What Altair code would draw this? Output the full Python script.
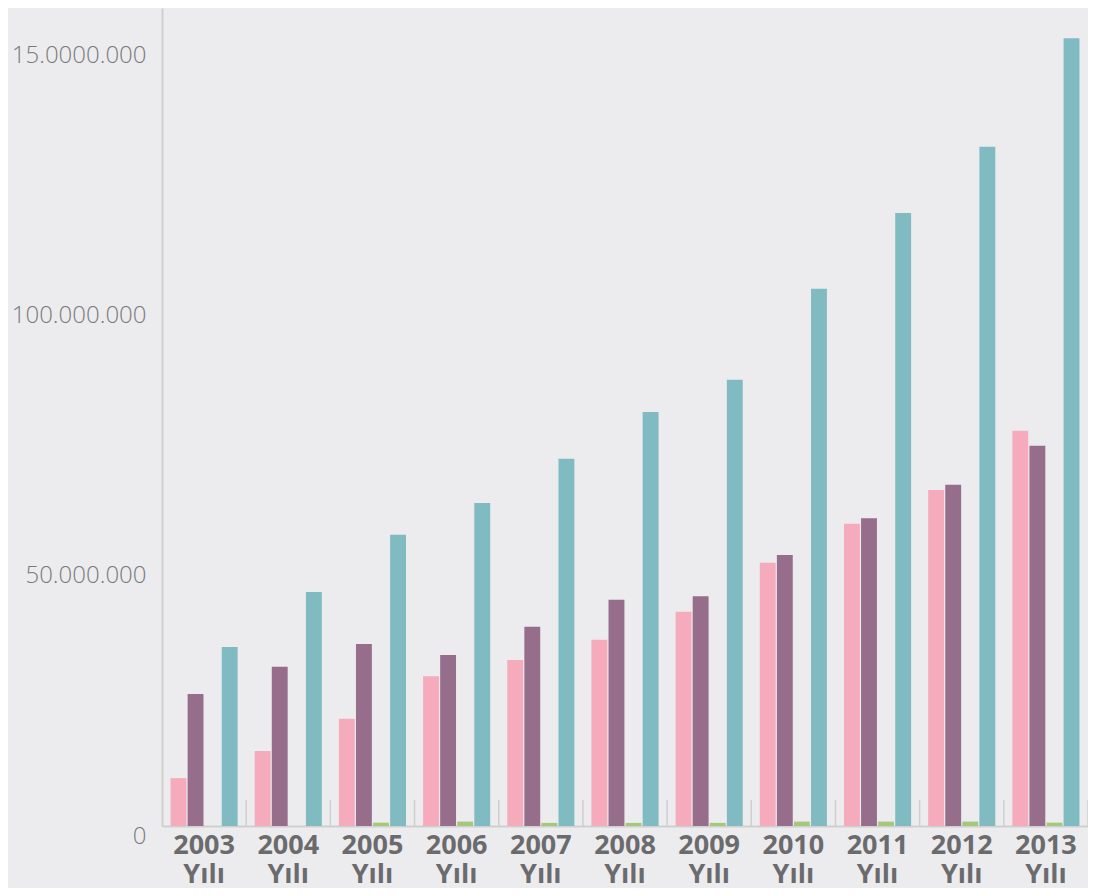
import altair as alt
import pandas as pd

years = ['2003', '2004', '2005', '2006', '2007', '2008', '2009', '2010', '2011', '2012', '2013']
series_names = ['Seri 1', 'Seri 2', 'Seri 3', 'Seri 4']
series_colors = ['#F5ABBC', '#966D8B', '#A5C97A', '#7FBBC1']

# values in millions
seri1 = [9.2, 14.4, 20.6, 28.8, 31.9, 35.8, 41.2, 50.6, 58.1, 64.6, 76.0]
seri2 = [25.4, 30.6, 35.0, 32.9, 38.3, 43.5, 44.2, 52.1, 59.2, 65.6, 73.1]
seri3 = [0.0, 0.0, 0.65, 0.85, 0.6, 0.6, 0.6, 0.85, 0.85, 0.85, 0.65]
seri4 = [34.4, 45.0, 56.0, 62.1, 70.6, 79.6, 85.8, 103.3, 117.9, 130.6, 151.5]

y_tick_values = [0, 50000000, 100000000, 150000000]
y_tick_labels = ['0', '50.000.000', '100.000.000', '15.0000.000']
x_label_suffix = 'Yılı'

rows = []
for name, vals in zip(series_names, [seri1, seri2, seri3, seri4]):
    for yr, v in zip(years, vals):
        rows.append({'year': yr, 'series': name, 'value': v * 1e6})
df = pd.DataFrame(rows)
df_years = pd.DataFrame({'year': years})

label_expr = "''"
for v, l in zip(reversed(y_tick_values), reversed(y_tick_labels)):
    label_expr = f"datum.value == {v} ? '{l}' : ({label_expr})"

W, H = 926, 818

x_enc = alt.X('year:N', sort=years,
              scale=alt.Scale(paddingInner=0, paddingOuter=0),
              axis=alt.Axis(title=None, labelAngle=0, ticks=False, bandPosition=0.5,
                            labelAlign='center', labelBaseline='top',
                            labelExpr=f"[datum.label, '{x_label_suffix}']",
                            domainColor='#cfcfcf', domainWidth=2,
                            labelFont='Open Sans', labelFontSize=27,
                            labelFontWeight='bold', labelColor='#6b6b6d',
                            labelLineHeight=29, labelPadding=6))

bars = alt.Chart(df).mark_bar().encode(
    x=x_enc,
    xOffset=alt.XOffset('series:N', sort=series_names,
                        scale=alt.Scale(paddingInner=0.07, paddingOuter=0.5)),
    y=alt.Y('value:Q',
            scale=alt.Scale(domain=[0, 157.3e6], nice=False, zero=True),
            axis=alt.Axis(title=None, values=y_tick_values, labelExpr=label_expr,
                          ticks=False, grid=False,
                          domainColor='#cfcfcf', domainWidth=2,
                          labelFont='Open Sans', labelFontSize=24,
                          labelFontWeight=300, labelColor='#7a7a7c',
                          labelPadding=16, labelOffset=10)),
    color=alt.Color('series:N', sort=series_names,
                    scale=alt.Scale(domain=series_names, range=series_colors),
                    legend=None),
)

seps = alt.Chart(df_years).mark_rule(color='#cfcfcf', strokeWidth=1.5).encode(
    x=alt.X('year:N', sort=years, bandPosition=1),
    y=alt.value(H - 26),
    y2=alt.value(H),
)

chart = alt.layer(seps, bars).properties(
    width=W, height=H,
    autosize=alt.AutoSizeParams(type='none'),
    padding={'left': 154, 'top': 0, 'right': 0, 'bottom': 62},
    background='#ECECEE',
).configure_view(stroke=None)

chart.save("out.html", embed_options={"renderer": "svg", "actions": False})
